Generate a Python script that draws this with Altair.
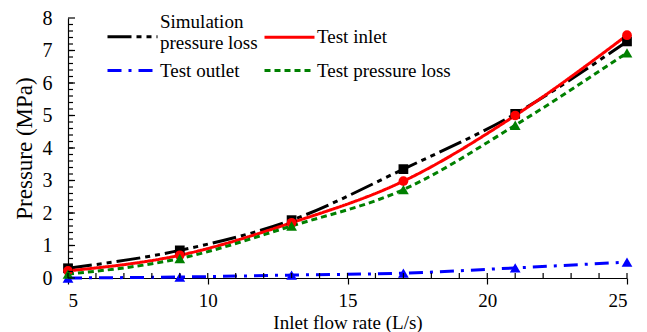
import altair as alt
import pandas as pd
import numpy as np

flow = [5, 9, 13, 17, 21, 25]
sim_loss = [0.3, 0.85, 1.78, 3.35, 5.05, 7.28]
test_inlet = [0.22, 0.7, 1.7, 2.98, 5.0, 7.47]
test_outlet = [0.0, 0.03, 0.09, 0.15, 0.31, 0.49]
test_loss = [0.12, 0.6, 1.6, 2.72, 4.7, 6.93]

series_names = ["Simulation pressure loss", "Test inlet", "Test outlet", "Test pressure loss"]
series_colors = ["#000000", "#ff0000", "#0000ff", "#008000"]
series_dashes = [[24, 5, 5, 5, 5, 5], [1, 0], [14, 7, 3, 7], [6, 4]]
series_shapes = ["square", "circle", "triangle-up", "triangle-up"]
series_sizes = [95, 95, 115, 115]

x_ticks = [5, 10, 15, 20, 25]
y_ticks = [0, 1, 2, 3, 4, 5, 6, 7, 8]

rows = []
for name, vals in zip(series_names, [sim_loss, test_inlet, test_outlet, test_loss]):
    for xv, yv in zip(flow, vals):
        rows.append({"flow": xv, "pressure": yv, "series": name})
df = pd.DataFrame(rows)

W, H = 559, 260
FONT = "Liberation Serif"

xscale = alt.Scale(domain=[5, 25], nice=False, zero=False)
yscale = alt.Scale(domain=[0, 8], nice=False)
cscale = alt.Scale(domain=series_names, range=series_colors)
dscale = alt.Scale(domain=series_names, range=series_dashes)

xaxis = alt.Axis(values=x_ticks, title="Inlet flow rate (L/s)", tickSize=6,
                 labelPadding=7, titleY=35, titleBaseline="top", grid=False,
                 labelFontSize=19, titleFontSize=19)
yaxis = alt.Axis(values=y_ticks, title="Pressure (MPa)", ticks=False,
                 labelPadding=16, titlePadding=6, grid=False,
                 labelFontSize=20, titleFontSize=23)

legend = alt.Legend(
    title=None, orient="none", legendX=38, legendY=2, columns=2, direction="horizontal",
    symbolType=alt.ExprRef(expr="datum.value == 'Simulation pressure loss' ? 'M-1,0.5H4' : 'M-1,0H4'"),
    symbolSize=400, symbolStrokeWidth=3,
    labelFont=FONT, labelFontSize=19, labelColor="#000000", labelLimit=300,
    labelOffset=31, columnPadding=0, rowPadding=6, padding=0,
    labelBaseline=alt.ExprRef(expr="datum.value == 'Simulation pressure loss' ? 'bottom' : 'middle'"),
    labelExpr="datum.value == 'Simulation pressure loss' ? ['Simulation', 'pressure loss'] : datum.label",
)

base = alt.Chart(df)

lines = base.mark_line(strokeWidth=3, interpolate="monotone").encode(
    x=alt.X("flow:Q", scale=xscale, axis=xaxis),
    y=alt.Y("pressure:Q", scale=yscale, axis=yaxis),
    color=alt.Color("series:N", scale=cscale, legend=legend, sort=series_names),
    strokeDash=alt.StrokeDash("series:N", scale=dscale, legend=legend, sort=series_names),
)

point_layers = []
for name, col, shp, sz in zip(series_names, series_colors, series_shapes, series_sizes):
    point_layers.append(
        base.transform_filter(alt.datum.series == name)
        .mark_point(filled=True, size=sz, opacity=1, color=col, shape=shp)
        .encode(
            x=alt.X("flow:Q", scale=xscale, axis=xaxis),
            y=alt.Y("pressure:Q", scale=yscale, axis=yaxis),
        )
    )

# tick marks drawn inside the plot (minor and major)
y_minor = pd.DataFrame({"v": np.round(np.arange(0.2, 8.0, 0.2), 2)})
y_major = pd.DataFrame({"v": y_ticks})
x_inner = pd.DataFrame({"v": list(range(5, 26))})

ymin = alt.Chart(y_minor).mark_rule(color="#000000", strokeWidth=1.2).encode(
    y=alt.Y("v:Q", scale=yscale, axis=yaxis),
    x=alt.value(0),
    x2=alt.value(5),
)
ymaj = alt.Chart(y_major).mark_rule(color="#000000", strokeWidth=1.2).encode(
    y=alt.Y("v:Q", scale=yscale, axis=yaxis),
    x=alt.value(0),
    x2=alt.value(7),
)
xmin = alt.Chart(x_inner).mark_rule(color="#000000", strokeWidth=1.2).encode(
    x=alt.X("v:Q", scale=xscale, axis=xaxis),
    y=alt.value(H - 5),
    y2=alt.value(H),
)

chart = alt.layer(lines, *point_layers, ymin, ymaj, xmin).properties(
    width=W, height=H,
    background="#ffffff",
    autosize=alt.AutoSizeParams(type="none"),
    padding={"left": 68, "top": 18, "right": 20, "bottom": 54},
).configure_view(stroke=None).configure_axis(
    domainColor="#000000", domainWidth=1.2, tickColor="#000000", tickWidth=1.2,
    labelFont=FONT, labelColor="#000000",
    titleFont=FONT, titleColor="#000000", titleFontWeight="normal",
)

chart.save("out.html", embed_options={"renderer": "svg", "actions": False})
